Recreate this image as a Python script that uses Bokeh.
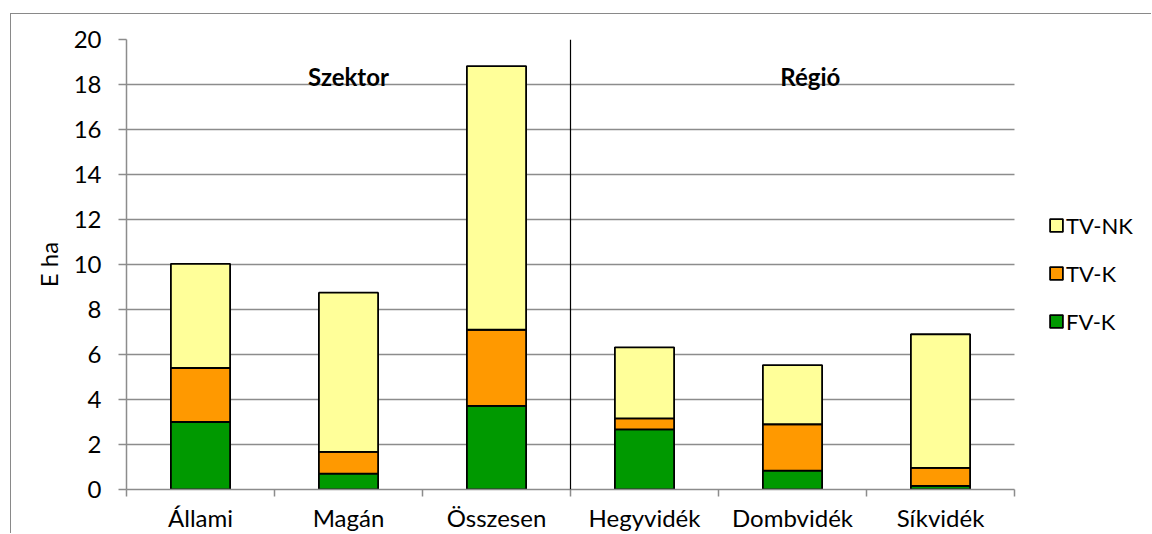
from bokeh.plotting import figure
from bokeh.models import (ColumnDataSource, Range1d, FixedTicker, Span, Legend,
                          LegendItem)
from bokeh.core.properties import value
from bokeh.embed import file_html
from bokeh.resources import INLINE

# ---- data ----
categories = ["Állami", "Magán", "Összesen", "Hegyvidék", "Dombvidék", "Síkvidék"]
fv_k = [3.00, 0.71, 3.72, 2.67, 0.84, 0.16]
tv_k = [2.40, 0.96, 3.38, 0.49, 2.06, 0.80]
tv_nk = [4.63, 7.08, 11.72, 3.16, 2.63, 5.94]
series_names = ["FV-K", "TV-K", "TV-NK"]
group_labels = ["Szektor", "Régió"]
y_ticks = list(range(0, 21, 2))

FONT = "Lato"
FS = "24px"
GRAY = "#8c8c8c"
colors = ["#009900", "#ff9900", "#ffff99"]

n = len(categories)
xs = list(range(1, n + 1))
source = ColumnDataSource(dict(x=xs, fv=fv_k, tvk=tv_k, tvnk=tv_nk))

# plot frame spans page x 126..1152; categories occupy 126..1014, legend sits to the right
x_end = n + 0.5 + (1152 - 1014) / ((1014 - 126) / n)

# outer chart border drawn by CSS at (10,13); canvas starts just inside it
p = figure(width=1141, height=520, output_backend="svg", toolbar_location=None,
           x_range=Range1d(0.5, x_end), y_range=Range1d(0, 20),
           min_border_left=115, min_border_right=0, min_border_top=25,
           min_border_bottom=45)
p.styles = {"margin-left": "10px", "margin-top": "13px",
            "border-left": "1px solid #898989", "border-top": "1px solid #898989"}
p.outline_line_color = None
p.background_fill_color = "white"
p.border_fill_color = "white"

renderers = p.vbar_stack(["fv", "tvk", "tvnk"], x="x", width=0.4, source=source,
                         fill_color=colors, line_color="black", line_width=1.8)

# axes
p.yaxis.ticker = FixedTicker(ticks=y_ticks)
p.yaxis.axis_line_color = GRAY
p.yaxis.axis_line_width = 1.5
p.yaxis.major_tick_line_color = GRAY
p.yaxis.major_tick_line_width = 1.5
p.yaxis.major_tick_out = 8
p.yaxis.major_tick_in = 0
p.yaxis.minor_tick_line_color = None
p.yaxis.major_label_text_font = FONT
p.yaxis.major_label_text_font_size = FS
p.yaxis.major_label_text_color = "black"
p.yaxis.major_label_standoff = 17
p.yaxis.axis_label = "E ha"
p.yaxis.axis_label_text_font = FONT
p.yaxis.axis_label_text_font_size = FS
p.yaxis.axis_label_text_font_style = "normal"
p.yaxis.axis_label_text_color = "black"
p.yaxis.axis_label_standoff = 8

bounds = [i + 0.5 for i in range(0, n + 1)]
p.xaxis.ticker = FixedTicker(ticks=xs, minor_ticks=bounds)
p.xaxis.bounds = (0.5, n + 0.5)
p.xaxis.major_label_overrides = {x: c for x, c in zip(xs, categories)}
p.xaxis.axis_line_color = GRAY
p.xaxis.axis_line_width = 1.5
p.xaxis.major_tick_line_color = None
p.xaxis.major_tick_out = 0
p.xaxis.major_tick_in = 0
p.xaxis.minor_tick_line_color = GRAY
p.xaxis.minor_tick_line_width = 1.5
p.xaxis.minor_tick_out = 7
p.xaxis.minor_tick_in = 0
p.xaxis.major_label_text_font = FONT
p.xaxis.major_label_text_font_size = FS
p.xaxis.major_label_text_color = "black"
p.xaxis.major_label_standoff = 6

p.xgrid.grid_line_color = None
p.ygrid.ticker = FixedTicker(ticks=y_ticks)
p.ygrid.cross_bounds = (0.5, n + 0.5)
p.ygrid.grid_line_color = GRAY
p.ygrid.grid_line_width = 1.5

# divider between groups
p.add_layout(Span(location=3.5, dimension="height", line_color="black", line_width=1.2))

# group headers
p.text(x=[2, 5.12], y=[18.37, 18.37], text=group_labels, text_font=value(FONT),
       text_font_size=FS, text_font_style="bold", text_color="black",
       text_align="center", text_baseline="alphabetic")

# legend
legend = Legend(items=[LegendItem(label=series_names[2], renderers=[renderers[2]]),
                       LegendItem(label=series_names[1], renderers=[renderers[1]]),
                       LegendItem(label=series_names[0], renderers=[renderers[0]])],
                location=(922, 154), orientation="vertical",
                glyph_width=16, glyph_height=16, label_height=28, spacing=20,
                padding=0, margin=0, label_standoff=2,
                label_text_font=FONT, label_text_font_size="22px",
                label_text_color="black",
                border_line_color=None, background_fill_alpha=0)
p.add_layout(legend, "center")

open("out.html", "w").write(file_html(p, INLINE))
